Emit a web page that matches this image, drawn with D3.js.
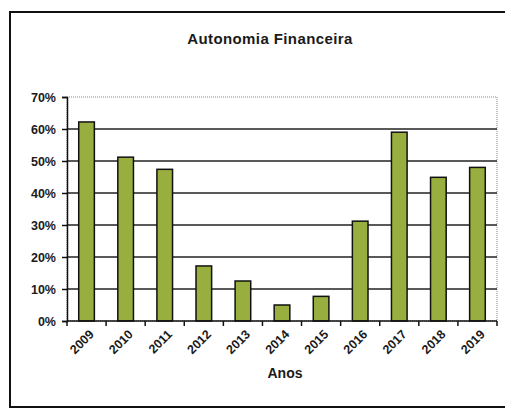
<!DOCTYPE html>
<html>
<head>
<meta charset="utf-8">
<script src="https://cdn.jsdelivr.net/npm/d3@7"></script>
<style>
  body { margin: 0; background: #fff; }
  text { font-family: "Liberation Sans", Arial, sans-serif; font-weight: bold; fill: #1a1a1a; }
</style>
</head>
<body>
<div id="chart"></div>
<script>
// Data
const years = ["2009", "2010", "2011", "2012", "2013", "2014", "2015", "2016", "2017", "2018", "2019"];
const values = [62.2, 51.2, 47.4, 17.2, 12.5, 5.0, 7.7, 31.2, 59.0, 44.9, 48.0];
const yTicks = [0, 10, 20, 30, 40, 50, 60, 70];

// Dimensions
const W = 505, H = 408;
const margin = { top: 97, right: 8, bottom: 87, left: 67 };
const width = W - margin.left - margin.right;
const height = H - margin.top - margin.bottom;

const root = d3.select("#chart")
    .append("svg")
    .attr("width", W)
    .attr("height", H);

// outer chart frame
root.append("rect")
    .attr("x", 10).attr("y", 12)
    .attr("width", W + 10).attr("height", H - 13)
    .attr("fill", "none")
    .attr("stroke", "#111")
    .attr("stroke-width", 2);

// Title
root.append("text")
    .attr("x", 270)
    .attr("y", 44)
    .attr("text-anchor", "middle")
    .style("font-size", "15px")
    .style("letter-spacing", "0.4px")
    .text("Autonomia Financeira");

const svg = root.append("g")
    .attr("transform", `translate(${margin.left},${margin.top})`);

// Scales
const x = d3.scaleBand()
    .domain(years)
    .range([0, width])
    .paddingInner(0.6)
    .paddingOuter(0.3);

const y = d3.scaleLinear()
    .domain([0, 70])
    .range([height, 0]);

// plot area border (dotted)
svg.append("rect")
    .attr("x", 0).attr("y", 0)
    .attr("width", width).attr("height", height)
    .attr("fill", "none")
    .attr("stroke", "#888")
    .attr("stroke-dasharray", "1,1");

// gridlines
svg.selectAll(".grid")
    .data(yTicks.filter(d => d > 0 && d < 70))
    .enter()
    .append("line")
    .attr("x1", 0).attr("x2", width)
    .attr("y1", d => y(d)).attr("y2", d => y(d))
    .attr("stroke", "#222")
    .attr("stroke-width", 1.5);

// Bars
svg.selectAll(".bar")
    .data(values)
    .enter()
    .append("rect")
    .attr("x", (d, i) => x(years[i]))
    .attr("y", d => y(d))
    .attr("width", x.bandwidth())
    .attr("height", d => height - y(d))
    .attr("fill", "#98ae3e")
    .attr("stroke", "#111")
    .attr("stroke-width", 1.5);

// Y axis
const yAxis = svg.append("g")
    .call(d3.axisLeft(y).tickValues(yTicks).tickFormat(d => d + "%").tickSize(5).tickPadding(6));
yAxis.select(".domain").attr("stroke", "#111").attr("stroke-width", 1.5);
yAxis.selectAll(".tick line").attr("stroke", "#111").attr("stroke-width", 1.5);
yAxis.selectAll("text").style("font-size", "12.5px").attr("font-family", null);

// X axis: ticks at band boundaries
const step = width / years.length;
const xAxis = svg.append("g")
    .attr("transform", `translate(0,${height})`);
xAxis.append("line")
    .attr("x1", 0).attr("x2", width)
    .attr("stroke", "#111").attr("stroke-width", 1.5);
xAxis.selectAll(".xt")
    .data(d3.range(years.length + 1))
    .enter()
    .append("line")
    .attr("x1", i => i * step).attr("x2", i => i * step)
    .attr("y1", 0).attr("y2", 5)
    .attr("stroke", "#111").attr("stroke-width", 1.5);
xAxis.selectAll(".xl")
    .data(years)
    .enter()
    .append("text")
    .attr("transform", d => `translate(${x(d) + x.bandwidth() / 2 + 5},${11}) rotate(-45)`)
    .attr("text-anchor", "end")
    .attr("dy", "0.35em")
    .style("font-size", "12.5px")
    .text(d => d);

// X axis label
root.append("text")
    .attr("x", 285)
    .attr("y", 378)
    .attr("text-anchor", "middle")
    .style("font-size", "14px")
    .text("Anos");
</script>
</body>
</html>
